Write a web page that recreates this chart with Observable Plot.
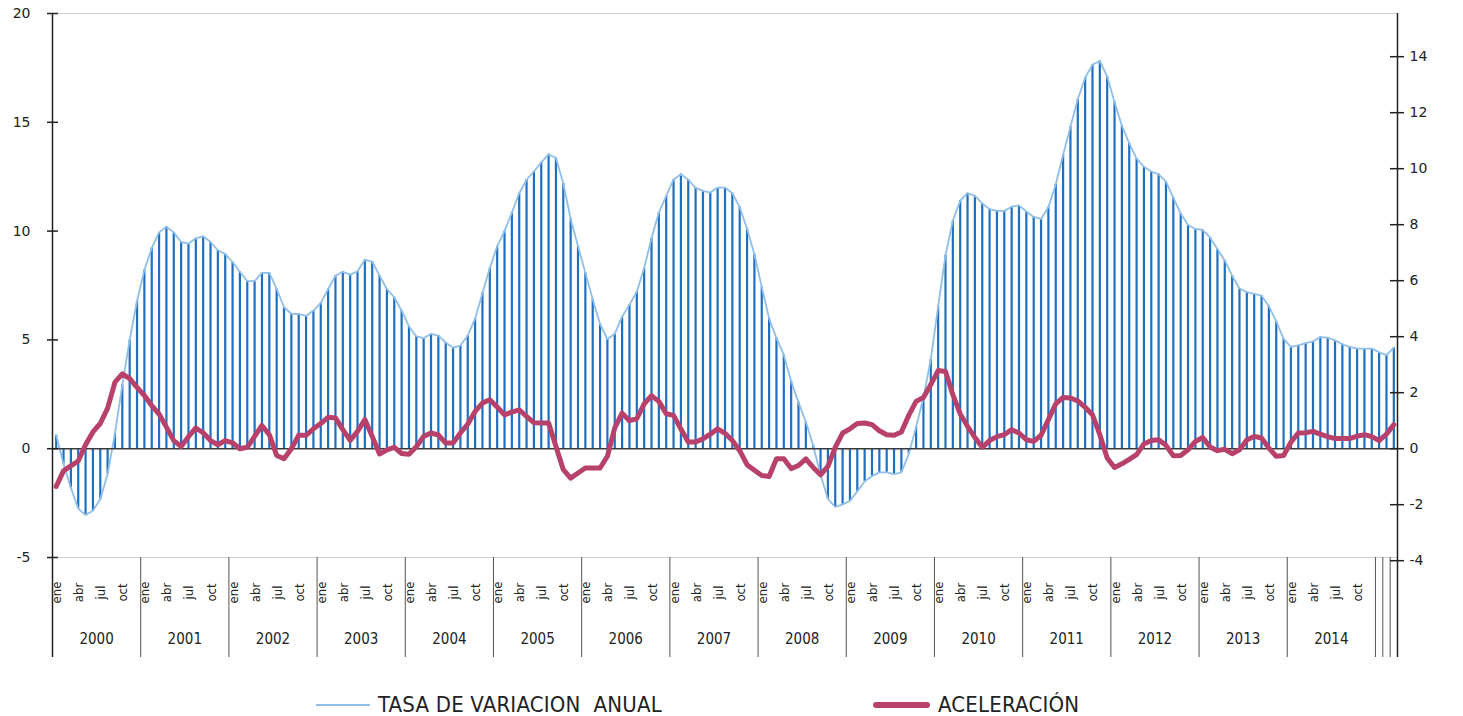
<!DOCTYPE html>
<html><head><meta charset="utf-8">
<script src="https://cdn.jsdelivr.net/npm/d3@7"></script>
<script src="https://cdn.jsdelivr.net/npm/@observablehq/plot@0.6"></script>
<style>
body{margin:0;background:#fff;}
#wrap{position:relative;width:1463px;height:716px;overflow:hidden;}
.leg{position:absolute;top:693px;height:24px;line-height:24px;font-family:"Liberation Sans Narrow","DejaVu Sans Condensed",sans-serif;font-size:22px;letter-spacing:0.2px;color:#222;display:flex;align-items:center;white-space:pre;}
.sw{display:inline-block;margin-right:8px;}
</style></head><body><div id="wrap"><div id="chart"></div>
<div class="leg" style="left:316px"><span class="sw" style="width:54px;height:2px;background:#8fbfe9"></span>TASA DE VARIACION  ANUAL</div>
<div class="leg" style="left:873px"><span class="sw" style="width:57px;height:6px;border-radius:3px;background:#b8416c"></span>ACELERACIÓN</div>
</div>
<script>
// Tasa de variación anual (eje izquierdo), mensual ene 2000 - mar 2015
const tasa = [
  0.62, -0.7, -1.8, -2.75, -3.05, -2.85, -2.32, -1.16, 0.7, 2.93, 5.0, 6.79,
  8.21, 9.22, 9.94, 10.2, 9.94, 9.5, 9.42, 9.67, 9.76, 9.5, 9.12, 8.94,
  8.58, 8.13, 7.7, 7.7, 8.08, 8.08, 7.34, 6.5, 6.2, 6.19, 6.1, 6.35,
  6.69, 7.34, 7.95, 8.13, 8.0, 8.15, 8.68, 8.6, 7.95, 7.33, 6.96, 6.34,
  5.62, 5.16, 5.08, 5.28, 5.2, 4.88, 4.64, 4.74, 5.2, 5.98, 7.16, 8.3,
  9.3, 10.0, 10.85, 11.74, 12.36, 12.74, 13.16, 13.53, 13.36, 12.19, 10.56, 9.3,
  8.08, 6.87, 5.73, 5.03, 5.28, 6.07, 6.62, 7.21, 8.3, 9.67, 10.85, 11.62,
  12.36, 12.62, 12.36, 11.99, 11.85, 11.77, 12.0, 12.0, 11.74, 11.1, 10.11, 8.94,
  7.43, 5.98, 5.08, 4.31, 3.1, 2.13, 1.24, 0.15, -1.2, -2.31, -2.68, -2.56,
  -2.4, -1.96, -1.51, -1.26, -1.09, -1.09, -1.17, -1.09, -0.25, 1.0, 2.35, 4.1,
  6.54, 8.89, 10.48, 11.4, 11.74, 11.62, 11.27, 11.01, 10.93, 10.93, 11.12, 11.18,
  10.9, 10.65, 10.56, 11.1, 12.15, 13.5, 14.79, 16.06, 17.05, 17.65, 17.82, 17.1,
  15.93, 14.84, 14.03, 13.33, 12.96, 12.74, 12.61, 12.27, 11.53, 10.81, 10.28, 10.1,
  10.05, 9.71, 9.17, 8.65, 7.95, 7.36, 7.19, 7.11, 7.03, 6.55, 5.85, 5.05,
  4.68, 4.75, 4.85, 4.93, 5.13, 5.1, 4.98, 4.8, 4.68, 4.6, 4.6, 4.6,
  4.43, 4.3, 4.65
];
// Aceleración (eje derecho)
const aceleracion = [
  -1.35, -0.79, -0.61, -0.44, 0.14, 0.6, 0.9, 1.45, 2.38, 2.67, 2.5, 2.19,
  1.9, 1.54, 1.24, 0.77, 0.29, 0.08, 0.43, 0.74, 0.57, 0.29, 0.14, 0.29,
  0.21, 0.0, 0.05, 0.44, 0.83, 0.5, -0.24, -0.36, 0.0, 0.48, 0.48, 0.71,
  0.9, 1.12, 1.1, 0.68, 0.3, 0.62, 1.04, 0.44, -0.19, -0.04, 0.05, -0.17,
  -0.2, 0.07, 0.44, 0.56, 0.49, 0.2, 0.2, 0.56, 0.88, 1.33, 1.63, 1.75,
  1.49, 1.21, 1.31, 1.39, 1.15, 0.93, 0.92, 0.92, 0.08, -0.75, -1.05, -0.87,
  -0.69, -0.69, -0.69, -0.27, 0.74, 1.27, 1.0, 1.07, 1.6, 1.89, 1.69, 1.25,
  1.19, 0.7, 0.24, 0.24, 0.35, 0.52, 0.71, 0.55, 0.29, -0.07, -0.57, -0.77,
  -0.96, -0.99, -0.36, -0.36, -0.71, -0.6, -0.36, -0.67, -0.93, -0.63, 0.05, 0.56,
  0.71, 0.9, 0.92, 0.86, 0.64, 0.5, 0.48, 0.6, 1.19, 1.69, 1.83, 2.29,
  2.79, 2.76, 1.93, 1.24, 0.8, 0.4, 0.05, 0.29, 0.43, 0.5, 0.68, 0.56,
  0.32, 0.26, 0.48, 1.04, 1.6, 1.83, 1.81, 1.71, 1.48, 1.21, 0.5, -0.33,
  -0.67, -0.54, -0.38, -0.21, 0.17, 0.29, 0.32, 0.12, -0.25, -0.24, -0.04, 0.26,
  0.4, 0.06, -0.07, -0.02, -0.18, -0.04, 0.31, 0.44, 0.38, 0.02, -0.27, -0.24,
  0.23, 0.56, 0.57, 0.62, 0.52, 0.43, 0.36, 0.36, 0.36, 0.45, 0.5, 0.43,
  0.29, 0.52, 0.86
];
const mesesEtiqueta = ["ene", "abr", "jul", "oct"];
const anios = [2000, 2001, 2002, 2003, 2004, 2005, 2006, 2007, 2008, 2009, 2010, 2011, 2012, 2013, 2014];
const ticksIzq = [-5, 0, 5, 10, 15, 20];
const ticksDer = [-4, -2, 0, 2, 4, 6, 8, 10, 12, 14];

// right axis: 28 px per unit vs 21.76 px per unit on left
const K = 28 / 21.76;
const nMeses = tasa.length;
const data = tasa.map((v, i) => ({i, tasa: v, acel: aceleracion[i]}));
const monthLabels = data.filter(d => d.i < anios.length * 12 && d.i % 3 === 0)
  .map(d => ({i: d.i, text: mesesEtiqueta[(d.i % 12) / 3]}));
const yearLabels = anios.map((y, k) => ({i: k * 12 + 6, text: String(y)}));
const bounds = anios.map((y, k) => (k + 1) * 12)
  .concat(d3.range(anios.length * 12 + 1, nMeses));

const H = 690, MT = 13, MB = 133;
const frameH = H - MT - MB;
const numFont = "'DejaVu Sans', sans-serif";
const catFont = "'Liberation Sans Narrow', 'DejaVu Sans Condensed', sans-serif";

const chart = Plot.plot({
  width: 1463, height: H,
  marginLeft: 52, marginRight: 66, marginTop: MT, marginBottom: MB,
  x: {type: "linear", domain: [0, nMeses], axis: null},
  y: {domain: [-5, 20], axis: null},
  style: {background: "#fff", overflow: "visible"},
  marks: [
    Plot.ruleY([20, -5], {stroke: "#d0d0d0", strokeWidth: 1.2}),
    Plot.ruleX(data, {x: d => d.i + 0.5, y1: 0, y2: "tasa", stroke: "#1f6fc0", strokeWidth: 2.2}),
    Plot.line(data, {x: d => d.i + 0.5, y: "tasa", stroke: "#8fbfe9", strokeWidth: 1.8}),
    Plot.ruleY([0], {stroke: "#3a3a3a", strokeWidth: 1.6}),
    Plot.line(data, {x: d => d.i + 0.5, y: d => d.acel * K, stroke: "#b8416c", strokeWidth: 5, strokeLinejoin: "round", strokeLinecap: "round"}),
    // category separators
    Plot.ruleX(bounds, {stroke: "#555", strokeWidth: 1, insetTop: frameH, insetBottom: -100}),
    // axes lines
    Plot.ruleX([0, nMeses], {stroke: "#222", strokeWidth: 1.5, insetBottom: -100}),
    // tick marks
    Plot.ruleY(ticksIzq, {x1: 0, x2: 0, insetLeft: -5, insetRight: -6, stroke: "#222", strokeWidth: 1.5}),
    Plot.ruleY(ticksDer.map(t => t * K), {x1: nMeses, x2: nMeses, insetLeft: -7, insetRight: -7, stroke: "#222", strokeWidth: 1.5}),
    Plot.text(ticksIzq, {y: d => d, frameAnchor: "left", dx: -22, textAnchor: "end", text: d => String(d), fontSize: 14, fontFamily: numFont, fill: "#222"}),
    Plot.text(ticksDer, {y: d => d * K, frameAnchor: "right", dx: 12, textAnchor: "start", text: d => String(d), fontSize: 14, fontFamily: numFont, fill: "#222"}),
    Plot.text(monthLabels, {x: d => d.i + 0.5, frameAnchor: "bottom", dx: 5, dy: 35, rotate: -90, text: "text", fontSize: 13, fontFamily: catFont, fill: "#222"}),
    Plot.text(yearLabels, {x: "i", frameAnchor: "bottom", dy: 86, text: "text", fontSize: 15, fontFamily: catFont, fill: "#222"})
  ]
});
document.getElementById("chart").appendChild(chart);
</script>
</body></html>
